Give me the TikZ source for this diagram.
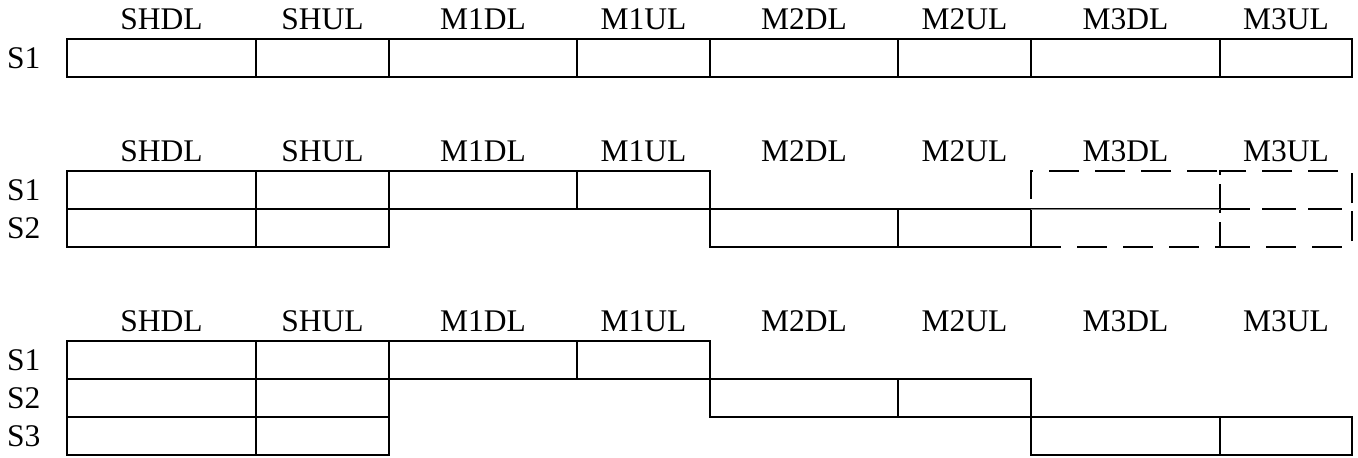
\documentclass[tikz,border=0pt]{standalone}
\usepackage{fontspec}
\setmainfont{Liberation Serif}
\def\colx{{67,256,389,577,710,898,1031,1220,1352}}
\newcommand\cellrow[4][cell]{%
  \foreach \i in {#4}{%
    \pgfmathsetmacro\xa{\colx[\i-1]}%
    \pgfmathsetmacro\xb{\colx[\i]}%
    \node[#1, minimum width=\xb-\xa] (#2c\i) at (\xa,#3) {};}}
\newcommand\headrow[2]{%
  \foreach \i/\t in {1/SHDL,2/SHUL,3/M1DL,4/M1UL,5/M2DL,6/M2UL,7/M3DL,8/M3UL}{%
    \pgfmathsetmacro\xa{\colx[\i-1]}%
    \pgfmathsetmacro\xb{\colx[\i]}%
    \node[lab] (#1h\i) at ({(\xa+\xb)/2},#2-10) {\t};}}
\begin{document}
\begin{tikzpicture}[x=1pt,y=-1pt,
  cell/.style={draw, line width=1.8pt, inner sep=0pt, outer sep=0pt,
    minimum height=38pt, anchor=north west},
  dcell/.style={cell, dash pattern=on 30pt off 16pt},
  lab/.style={font=\fontsize{31.5}{36}\selectfont, inner sep=0pt, anchor=base},
  rlab/.style={font=\fontsize{31.5}{36}\selectfont, inner sep=0pt, anchor=base east}]
\useasboundingbox (0,0) rectangle (1358,458);
% section A
\headrow{a}{39}
\node[rlab] (aS1) at (40.5,68.5) {S1};
\cellrow{aS1}{39}{1,2,3,4,5,6,7,8}
% section B
\headrow{b}{171}
\node[rlab] (bS1) at (40.5,200.5) {S1};
\node[rlab] (bS2) at (40.5,238.5) {S2};
\cellrow{bS1}{171}{1,2,3,4}
\cellrow{bS2}{209}{1,2,5,6}
\cellrow[dcell]{bS1}{171}{7,8}
\cellrow[dcell]{bS2}{209}{7,8}
\draw[gray, line width=0.8pt] (bS1c7.south west) -- (bS1c7.south east);
% section C
\headrow{c}{341}
\node[rlab] (cS1) at (40.5,370.5) {S1};
\node[rlab] (cS2) at (40.5,408.5) {S2};
\node[rlab] (cS3) at (40.5,446.5) {S3};
\cellrow{cS1}{341}{1,2,3,4}
\cellrow{cS2}{379}{1,2,5,6}
\cellrow{cS3}{417}{1,2,7,8}
\end{tikzpicture}
\end{document}
